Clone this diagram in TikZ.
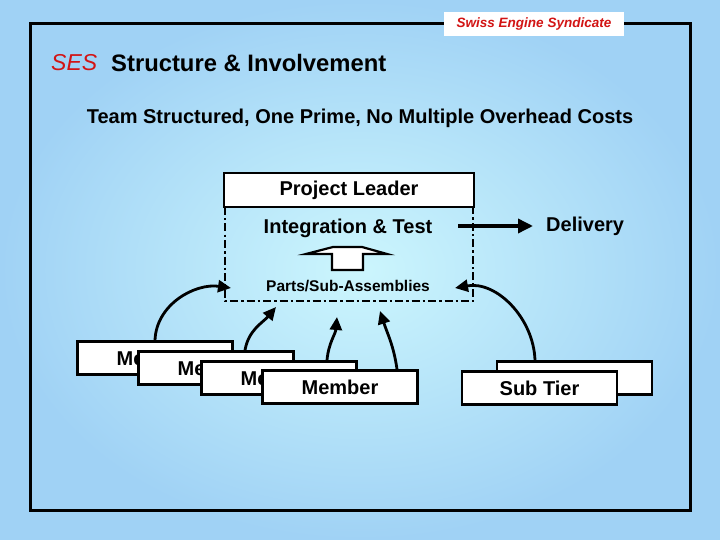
\documentclass[tikz,border=0pt]{standalone}
\usepackage{fontspec}
\setmainfont{Liberation Sans}
\usetikzlibrary{arrows.meta}
\definecolor{bgin}{RGB}{204,246,253}
\definecolor{bgout}{RGB}{160,210,245}
\definecolor{sesred}{RGB}{210,20,20}
\tikzset{
  box/.style={draw=black,fill=white,line width=2.6pt,minimum width=155pt,minimum height=33pt,inner sep=0pt,font=\bfseries\fontsize{20}{20}\selectfont},
  feed/.style={line width=2.8pt,-{Triangle[length=13pt,width=12pt]}},
  dashdot/.style={line width=2.6pt,dash pattern=on 8pt off 3pt on 2.5pt off 3pt},
  lbl/.style={inner sep=0pt,font=\bfseries\fontsize{20}{20}\selectfont}
}
\begin{document}
\begin{tikzpicture}[x=1pt,y=-1pt]
\useasboundingbox (0,0) rectangle (720,540);
\shade[inner color=bgin,outer color=bgout] (0,0) rectangle (720,540);
% frame
\draw[line width=3pt] (30,24) rectangle (690,510);
\node[fill=white,minimum width=180pt,minimum height=24pt,inner sep=0pt,text=sesred,font=\bfseries\itshape\fontsize{13.5}{14}\selectfont] (tag) at (534,24) {Swiss Engine Syndicate};
% titles
\node[anchor=west,inner sep=0pt,text=sesred,font=\itshape\fontsize{23}{24}\selectfont] (ses) at (51,63) {SES};
\node[anchor=west,inner sep=0pt,font=\bfseries\fontsize{23.8}{24}\selectfont] (title) at (111,63) {Structure \& Involvement};
\node[lbl] (sub) at (360,118) {Team Structured, One Prime, No Multiple Overhead Costs};
% project leader box
\draw[dashdot] (225,207) -- (225,301) -- (473,301) -- (473,207);
\node[box,minimum width=250pt,minimum height=34pt] (pl) at (349,190) {Project Leader};
\node[lbl] (it) at (348,228) {Integration \& Test};
\node[inner sep=0pt,font=\bfseries\fontsize{15.5}{16}\selectfont] (parts) at (348,286) {Parts/Sub-Assemblies};
% block arrow
\draw[line width=2.2pt,fill=white,line join=miter] (306,254) -- (333,247) -- (362,247) -- (387,254) -- (363,254) -- (363,270) -- (332,270) -- (332,254) -- cycle;
% delivery
\node[lbl,anchor=west] (del) at (546,226) {Delivery};
\coordinate (dstart) at (458,226);
\draw[line width=3.5pt,-{Triangle[length=15pt,width=14pt]}] (dstart) -- (del.west -| 533,0);
% members
\node[box] (m1) at (155,358) {Member};
\node[box] (m2) at (216,368) {Member};
\node[box] (m3) at (279,378) {Member};
\node[box] (m4) at (340,387) {Member};
% sub tiers
\node[box] (s1) at (574.5,378) {Sub Tier};
\node[box] (s2) at (539.5,388) {Sub Tier};
% feed arrows
\coordinate (t1) at (231,288);
\coordinate (t2) at (276,307);
\coordinate (t3) at (337,317);
\coordinate (t4) at (380,311);
\coordinate (t5) at (455,288);
\draw[feed] (m1.north) to[out=88,in=172] (t1);
\draw[feed] (m2.north -| 245,0) to[out=80,in=-130] (t2);
\draw[feed] (m3.north -| 327,0) to[out=85,in=-95] (t3);
\draw[feed] (m4.north -| 397,0) to[out=98,in=-72] (t4);
\draw[feed] (s1.north -| 535,0) to[out=92,in=10] (t5);
\end{tikzpicture}
\end{document}
